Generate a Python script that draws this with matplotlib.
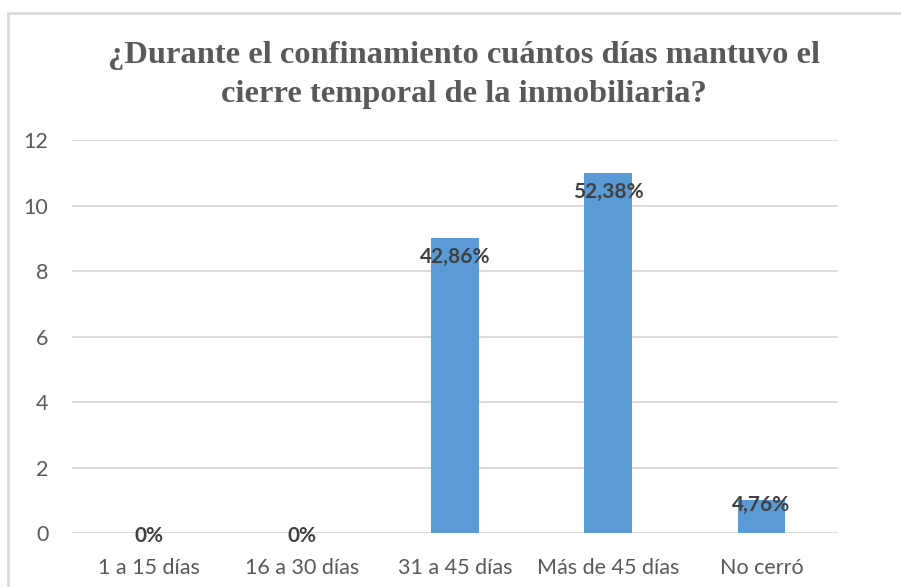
import matplotlib
matplotlib.use("Agg")
import matplotlib.pyplot as plt
from matplotlib.patches import Rectangle

categories = ["1 a 15 días", "16 a 30 días", "31 a 45 días", "Más de 45 días", "No cerró"]
counts = [0, 0, 9, 11, 1]
pct_labels = ["0%", "0%", "42,86%", "52,38%", "4,76%"]
yticks = [0, 2, 4, 6, 8, 10, 12]
title = "¿Durante el confinamiento cuántos días mantuvo el\ncierre temporal de la inmobiliaria?"

W, H = 901, 587
fig = plt.figure(figsize=(W / 100, H / 100), dpi=100)
fig.patch.set_facecolor("white")

# chart border
fig.patches.append(Rectangle((8 / W, -0.05), 1.0, (H - 13) / H + 0.05, transform=fig.transFigure,
                             fill=False, edgecolor="#d9d9d9", linewidth=2.0))

ax = fig.add_axes([72 / W, (H - 533) / H, (838 - 72) / W, (533 - 140) / H])
x = list(range(len(categories)))
ax.bar(x, counts, width=0.31, color="#5b9bd5", zorder=3)
ax.set_xlim(-0.5, len(categories) - 0.5)
ax.set_ylim(0, 12)
ax.set_yticks(yticks)
ax.set_xticks(x)
ax.set_xticklabels(categories)
for s in ax.spines.values():
    s.set_visible(False)
ax.grid(axis="y", color="#d9d9d9", linewidth=1.3, zorder=0)
ax.tick_params(axis="both", length=0, labelsize=15.5, labelcolor="#595959")
ax.tick_params(axis="y", pad=17)
ax.tick_params(axis="x", pad=18)
for lab in ax.get_xticklabels() + ax.get_yticklabels():
    lab.set_fontfamily("Lato")

for xi, v, lab in zip(x, counts, pct_labels):
    if v >= 5:
        off = -19
    elif v > 0:
        off = -5
    else:
        off = -3
    ax.annotate(lab, (xi, v), xytext=(0, off), textcoords="offset pixels",
                ha="center", va="center", fontsize=15, fontweight="bold",
                color="#404040", fontfamily="Lato", zorder=4)

fig.text(464 / W, 1 - 75 / H, title, ha="center", va="center", fontsize=23.4,
         fontweight="bold", color="#595959", fontfamily="Liberation Serif",
         linespacing=1.42)

fig.savefig("out.png", dpi=100)
